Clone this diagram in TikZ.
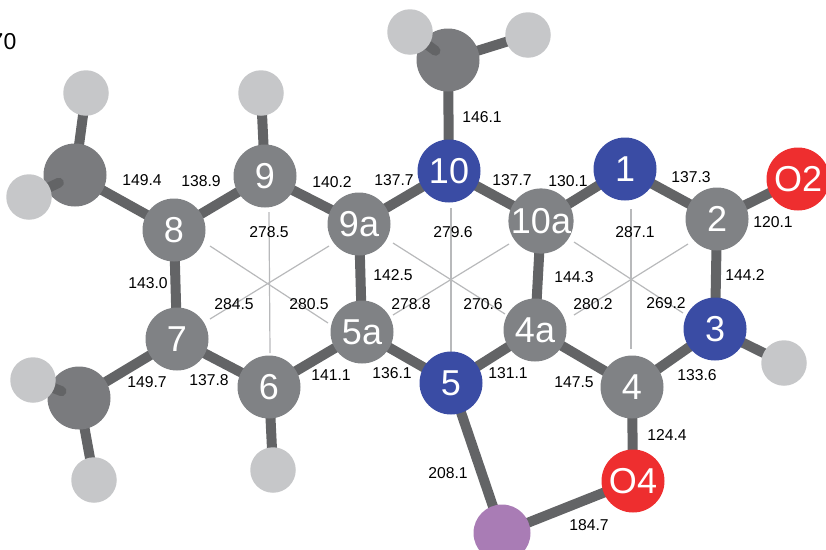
\documentclass[tikz,border=0pt]{standalone}
\usepackage{fontspec}
\setmainfont{Liberation Sans}
\usetikzlibrary{backgrounds,calc}
\pgfdeclarelayer{front}
\pgfsetlayers{background,main,front}
\definecolor{cgray}{HTML}{808285}
\definecolor{cdark}{HTML}{636466}
\definecolor{cmeth}{HTML}{7A7B7E}
\definecolor{hgray}{HTML}{C6C7C9}
\definecolor{nblue}{HTML}{3A4CA4}
\definecolor{ored}{HTML}{EE2E2F}
\definecolor{mpurple}{HTML}{A97CB5}
\definecolor{thinl}{HTML}{B8B9BB}
\tikzset{
  atom/.style={circle,inner sep=0pt,text=white,font=\fontsize{36}{36}\selectfont},
  carbon/.style={atom,fill=cgray,minimum size=63pt},
  nitro/.style={atom,fill=nblue,minimum size=63pt},
  oxy/.style={atom,fill=ored,minimum size=63pt},
  metal/.style={atom,fill=mpurple,minimum size=57pt},
  methyl/.style={atom,fill=cmeth,minimum size=63pt},
  hydro/.style={atom,fill=hgray,minimum size=45.5pt},
  bond/.style={draw=cdark,line width=10pt},
  ring/.style={draw=thinl,line width=1.2pt},
  val/.style={inner sep=0pt,text=black,font=\fontsize{15.7}{16}\selectfont},
}
\begin{document}
\begin{tikzpicture}[x=1pt,y=-1pt]
\useasboundingbox (0,0) rectangle (826,549);
\clip (0,0) rectangle (826,549);
\node[val,font=\fontsize{23}{23}\selectfont,anchor=east] (cut) at (16.5,42) {70};
% atoms
\node[carbon] (c8) at (174,230) {8};
\node[carbon] (c9) at (265,176) {9};
\node[carbon] (c9a) at (359,224) {9a};
\node[nitro] (n10) at (449,171) {10};
\node[carbon] (c10a) at (541,221) {10a};
\node[nitro] (n1) at (625,169) {1};
\node[carbon] (c2) at (717,219) {2};
\node[oxy] (o2) at (798,179) {O2};
\node[nitro] (n3) at (715,329) {3};
\node[carbon] (c4) at (632,387) {4};
\node[oxy] (o4) at (633,481) {O4};
\node[carbon] (c4a) at (535,330) {4a};
\node[nitro] (n5) at (451,383) {5};
\node[carbon] (c5a) at (362,332) {5a};
\node[carbon] (c6) at (269,387) {6};
\node[carbon] (c7) at (177,339) {7};
\node[metal] (m) at (502,533) {};
\node[methyl] (mt) at (448,60) {};
\node[methyl] (ml) at (75,175) {};
\node[methyl] (mb) at (79,398) {};
\node[hydro] (h2) at (528,35) {};
\node[hydro] (h3) at (86,93) {};
\node[hydro] (h6) at (94,480) {};
\node[hydro] (h9) at (261,93) {};
\node[hydro] (h06) at (273,470) {};
\node[hydro] (h03) at (784,363) {};
\begin{pgfonlayer}{front}
\node[hydro] (h1) at (410,32) {};
\node[hydro] (h4) at (29,197) {};
\node[hydro] (h5) at (33,380) {};
\end{pgfonlayer}
% free ends of the thin cross-ring lines
\coordinate (a1) at (269,212); \coordinate (a2) at (270,353);
\coordinate (a3) at (210,246); \coordinate (a4) at (328,323);
\coordinate (a5) at (329,246); \coordinate (a6) at (210,319);
\coordinate (b1) at (451,208); \coordinate (b2) at (451,352);
\coordinate (b3) at (393,243); \coordinate (b4) at (505,314);
\coordinate (b5) at (509,244); \coordinate (b6) at (393,315);
\coordinate (d1) at (631,209); \coordinate (d2) at (631,349);
\coordinate (d3) at (574,242); \coordinate (d4) at (683,313);
\coordinate (d5) at (688,244); \coordinate (d6) at (574,315);
\begin{pgfonlayer}{background}
\foreach \a/\b in {c8/c9,c9/c9a,c9a/n10,n10/c10a,c10a/n1,n1/c2,c2/o2,c2/n3,n3/c4,c4/o4,c4/c4a,c4a/c10a,c4a/n5,n5/c5a,c5a/c9a,c5a/c6,c6/c7,c7/c8,n5/m,m/o4,n10/mt,c8/ml,c7/mb,ml/h3,mb/h6,mt/h2,c9/h9,c6/h06,n3/h03}
  \draw[bond] (\a.center) -- (\b.center);
\foreach \a/\b in {a1/a2,a3/a4,a5/a6,b1/b2,b3/b4,b5/b6,d1/d2,d3/d4,d5/d6}
  \draw[ring] (\a) -- (\b);
\end{pgfonlayer}
% bond stubs lying in front of the methyl balls, behind the hydrogens
\draw[bond,line cap=round] (h4.center) -- ($(ml.center)!0.35!(h4.center)$);
\draw[bond,line cap=round] (h1.center) -- ($(mt.center)!0.33!(h1.center)$);
\draw[bond,line cap=round] (h5.center) -- ($(mb.center)!0.38!(h5.center)$);
% values
\node[val] (v01) at (142,180) {149.4};
\node[val] (v02) at (201,181) {138.9};
\node[val] (v03) at (482,117) {146.1};
\node[val] (v04) at (332,182) {140.2};
\node[val] (v05) at (394,180) {137.7};
\node[val] (v06) at (512,180) {137.7};
\node[val] (v07) at (568,181) {130.1};
\node[val] (v08) at (691,177) {137.3};
\node[val] (v09) at (773,222) {120.1};
\node[val] (v10) at (269,232) {278.5};
\node[val] (v11) at (453,232) {279.6};
\node[val] (v12) at (635,232) {287.1};
\node[val] (v13) at (148,283) {143.0};
\node[val] (v14) at (393,275) {142.5};
\node[val] (v15) at (574,277) {144.3};
\node[val] (v16) at (745,275) {144.2};
\node[val] (v17) at (234,304) {284.5};
\node[val] (v18) at (309,304) {280.5};
\node[val] (v19) at (411,304) {278.8};
\node[val] (v20) at (483,304) {270.6};
\node[val] (v21) at (593,304) {280.2};
\node[val] (v22) at (666,303) {269.2};
\node[val] (v23) at (147,382) {149.7};
\node[val] (v24) at (209,380) {137.8};
\node[val] (v25) at (331,375) {141.1};
\node[val] (v26) at (392,373) {136.1};
\node[val] (v27) at (508,373) {131.1};
\node[val] (v28) at (574,382) {147.5};
\node[val] (v29) at (697,375) {133.6};
\node[val] (v30) at (667,435) {124.4};
\node[val] (v31) at (448,473) {208.1};
\node[val] (v32) at (589,525) {184.7};
\end{tikzpicture}
\end{document}
